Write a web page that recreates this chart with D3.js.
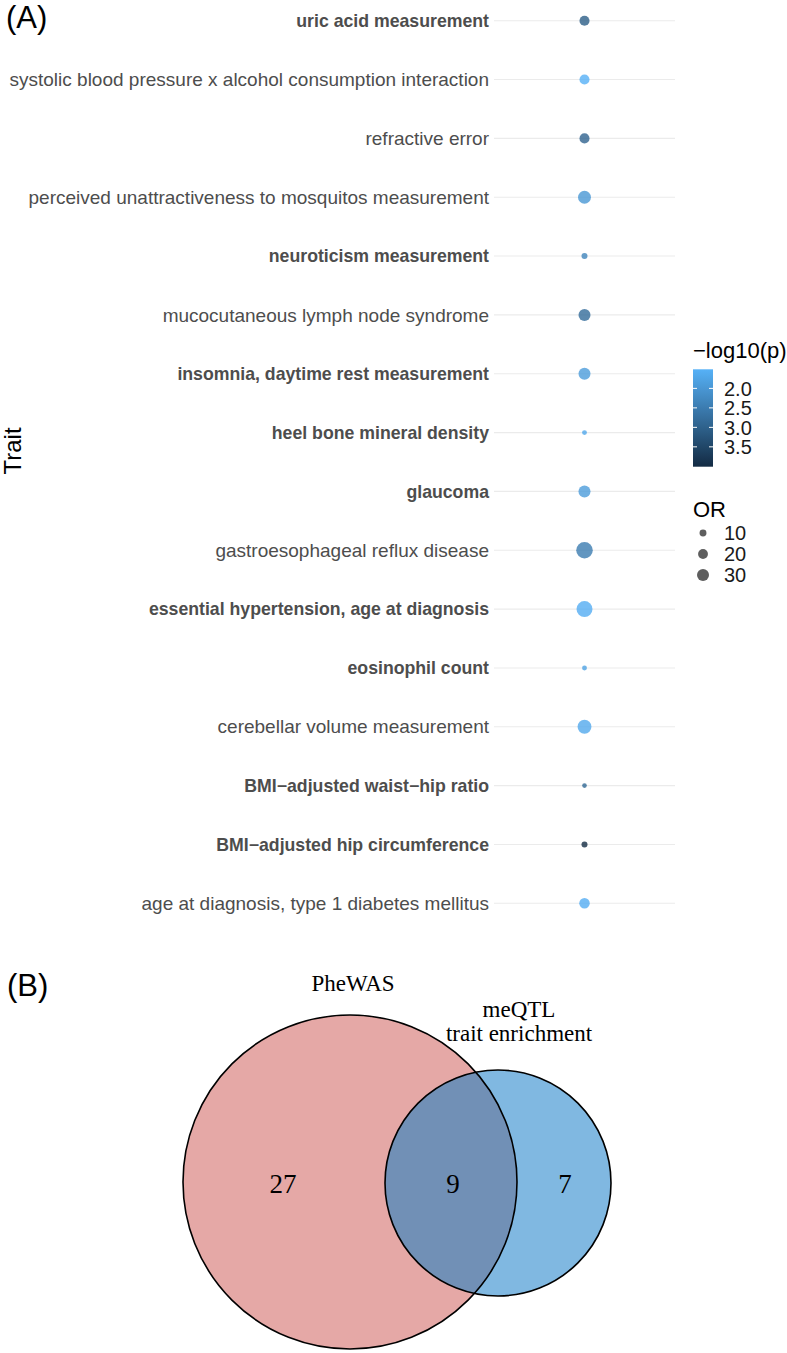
<!DOCTYPE html>
<html>
<head>
<meta charset="utf-8">
<script src="https://cdn.jsdelivr.net/npm/d3@7"></script>
<style>
  body { margin: 0; background: #fff; }
  svg { display: block; }
</style>
</head>
<body>
<div id="chart"></div>
<script>
// panel A data, listed top to bottom
var traits = ['uric acid measurement',
  'systolic blood pressure x alcohol consumption interaction',
  'refractive error',
  'perceived unattractiveness to mosquitos measurement',
  'neuroticism measurement',
  'mucocutaneous lymph node syndrome',
  'insomnia, daytime rest measurement',
  'heel bone mineral density',
  'glaucoma',
  'gastroesophageal reflux disease',
  'essential hypertension, age at diagnosis',
  'eosinophil count',
  'cerebellar volume measurement',
  'BMI\u2212adjusted waist\u2212hip ratio',
  'BMI\u2212adjusted hip circumference',
  'age at diagnosis, type 1 diabetes mellitus'];
var logp = [3.06, 1.52, 2.96, 2.0, 2.34, 2.8, 1.9, 1.68, 1.9, 2.5, 1.58, 1.78, 1.66, 2.88, 4.0, 1.58];
var orVals = [21, 21, 21, 35, 7.5, 30, 30, 5, 30, 57, 53, 5, 40, 4.5, 7.5, 23];
var shared = [1, 0, 0, 0, 1, 0, 1, 1, 1, 0, 1, 1, 0, 1, 1, 0];
var colorTicks = [2.0, 2.5, 3.0, 3.5];
var sizeTicks = [10, 20, 30];

// panel B data
var vennSets = ['PheWAS', 'meQTL trait enrichment'];
var vennCounts = [27, 9, 7];   // only PheWAS, both, only meQTL

var W = 787, H = 1353;
var svg = d3.select('#chart').append('svg').attr('width', W).attr('height', H);
var defs = svg.append('defs');
var font = 'Liberation Sans, Arial, Helvetica, sans-serif';
var serif = 'Liberation Serif, Times New Roman, serif';

// ---------- (A) dot plot ----------
var lo = 1.51, hi = 4.01;
var color = d3.scaleLinear().domain([lo, hi]).range(['#56B1F7', '#132B43']).interpolate(d3.interpolateRgb);
var size = d3.scaleSqrt().domain([0, 60]).range([0, 8.5]);
var y = d3.scalePoint().domain(traits).range([20.7, 903.3]);
var x = d3.scaleBand().domain(['trait']).range([494, 675]);

svg.append('text').attr('x', 6).attr('y', 28)
  .style('font-family', font).style('font-size', '31px').text('(A)');

var rows = svg.append('g').attr('class', 'rows');
rows.selectAll('.grid').data(traits).join('line')
  .attr('class', 'grid')
  .attr('x1', x.range()[0]).attr('x2', x.range()[1])
  .attr('y1', d => y(d)).attr('y2', d => y(d))
  .attr('stroke', '#ebebeb').attr('stroke-width', 1.1);

rows.selectAll('.lab').data(traits).join('text')
  .attr('class', 'lab')
  .attr('x', 489).attr('y', d => y(d)).attr('dy', '0.35em')
  .attr('text-anchor', 'end')
  .style('font-family', font)
  .style('font-size', (d, i) => shared[i] ? '17.7px' : '19px')
  .style('font-weight', (d, i) => shared[i] ? 'bold' : 'normal')
  .style('fill', '#4d4d4d')
  .text(d => d);

rows.selectAll('.dot').data(traits).join('circle')
  .attr('class', 'dot')
  .attr('cx', x('trait') + x.bandwidth() / 2)
  .attr('cy', d => y(d))
  .attr('r', (d, i) => size(orVals[i]))
  .attr('fill', (d, i) => color(logp[i]))
  .attr('fill-opacity', 0.8);

svg.append('text')
  .attr('transform', 'translate(21,451) rotate(-90)')
  .attr('text-anchor', 'middle')
  .style('font-family', font).style('font-size', '24px')
  .text('Trait');

// colour legend
var lg = svg.append('g').attr('transform', 'translate(693,0)');
lg.append('text').attr('x', 0).attr('y', 358)
  .style('font-family', font).style('font-size', '22px').text('\u2212log10(p)');
var barY = d3.scaleLinear().domain([lo, hi]).range([369.3, 466.7]);
var grad = defs.append('linearGradient').attr('id', 'cbar')
  .attr('x1', 0).attr('x2', 0).attr('y1', 0).attr('y2', 1);
d3.range(0, 1.01, 0.1).forEach(function(t) {
  grad.append('stop').attr('offset', t).attr('stop-color', color(lo + t * (hi - lo)));
});
lg.append('rect').attr('x', 0).attr('y', barY(lo)).attr('width', 20)
  .attr('height', barY(hi) - barY(lo)).attr('fill', 'url(#cbar)');
colorTicks.forEach(function(v) {
  lg.append('line').attr('x1', 0).attr('x2', 4).attr('y1', barY(v)).attr('y2', barY(v))
    .attr('stroke', '#fff').attr('stroke-width', 1);
  lg.append('line').attr('x1', 16).attr('x2', 20).attr('y1', barY(v)).attr('y2', barY(v))
    .attr('stroke', '#fff').attr('stroke-width', 1);
  lg.append('text').attr('x', 31).attr('y', barY(v)).attr('dy', '0.36em')
    .style('font-family', font).style('font-size', '20px').style('fill', '#1a1a1a')
    .text(d3.format('.1f')(v));
});

// size legend
lg.append('text').attr('x', 0).attr('y', 517)
  .style('font-family', font).style('font-size', '22px').text('OR');
var keyY = d3.scaleLinear().domain([10, 30]).range([533, 575]);
sizeTicks.forEach(function(v) {
  lg.append('circle').attr('cx', 10).attr('cy', keyY(v)).attr('r', size(v))
    .attr('fill', '#4d4d4d').attr('fill-opacity', 0.9);
  lg.append('text').attr('x', 31).attr('y', keyY(v)).attr('dy', '0.36em')
    .style('font-family', font).style('font-size', '20px').style('fill', '#1a1a1a')
    .text(v);
});

// ---------- (B) venn ----------
svg.append('text').attr('x', 7).attr('y', 996)
  .style('font-family', font).style('font-size', '31px').text('(B)');

var A = {cx: 350, cy: 1182, r: 167}, B = {cx: 498, cy: 1183, r: 113};
var venn = svg.append('g');
defs.append('clipPath').attr('id', 'clipA')
  .append('circle').attr('cx', A.cx).attr('cy', A.cy).attr('r', A.r);

venn.append('circle').attr('cx', A.cx).attr('cy', A.cy).attr('r', A.r).attr('fill', '#e5a8a6');
venn.append('circle').attr('cx', B.cx).attr('cy', B.cy).attr('r', B.r).attr('fill', '#80b8e1');
venn.append('circle').attr('cx', B.cx).attr('cy', B.cy).attr('r', B.r)
  .attr('fill', '#7190b6').attr('clip-path', 'url(#clipA)');
[A, B].forEach(function(c) {
  venn.append('circle').attr('cx', c.cx).attr('cy', c.cy).attr('r', c.r)
    .attr('fill', 'none').attr('stroke', '#000').attr('stroke-width', 1.6);
});

var countX = [283, 453, 565];
venn.selectAll('.cnt').data(vennCounts).join('text')
  .attr('class', 'cnt')
  .attr('x', (d, i) => countX[i]).attr('y', 1193)
  .attr('text-anchor', 'middle')
  .style('font-family', serif).style('font-size', '27px')
  .text(d => d);

venn.append('text').attr('x', 353).attr('y', 991).attr('text-anchor', 'middle')
  .style('font-family', serif).style('font-size', '23px').text(vennSets[0]);
var parts = vennSets[1].split(' ');
venn.append('text').attr('x', 519).attr('y', 1017).attr('text-anchor', 'middle')
  .style('font-family', serif).style('font-size', '23px').text(parts[0]);
venn.append('text').attr('x', 519).attr('y', 1041).attr('text-anchor', 'middle')
  .style('font-family', serif).style('font-size', '23px').text(parts.slice(1).join(' '));
</script>
</body>
</html>
